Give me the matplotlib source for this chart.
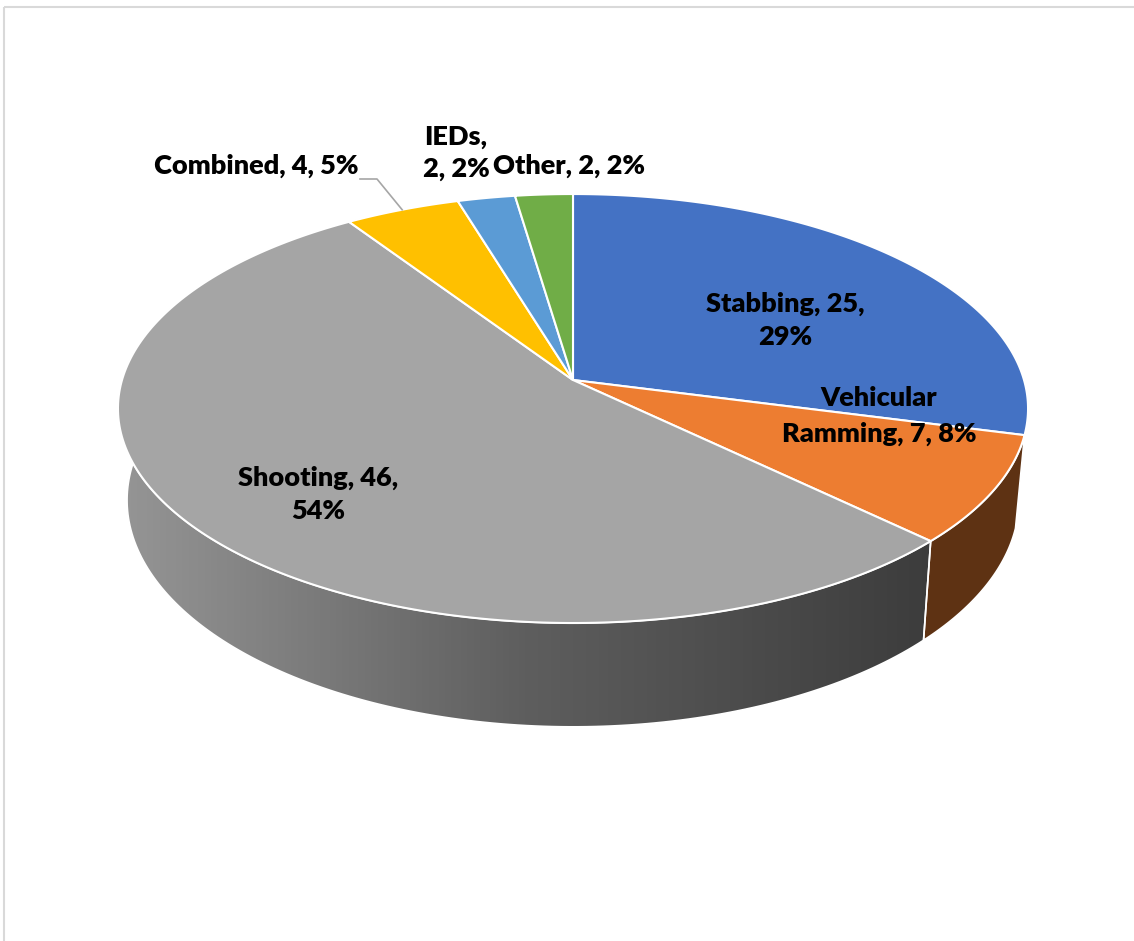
import numpy as np
import matplotlib
matplotlib.use("Agg")
import matplotlib.pyplot as plt
from matplotlib.patches import Polygon, Rectangle
from matplotlib.colors import LinearSegmentedColormap

# data
categories = ["Stabbing", "Vehicular Ramming", "Shooting", "Combined", "IEDs", "Other"]
values = [25, 7, 46, 4, 2, 2]
pcts = [29, 8, 54, 5, 2, 2]
top_colors = ["#4472C4", "#ED7D31", "#A5A5A5", "#FFC000", "#5B9BD5", "#70AD47"]
side_colors = ["#2c4a80", "#5e3213", None, "#a67c00", "#3b6589", "#49712e"]

label_text = [
    f"Stabbing, {values[0]},\n{pcts[0]}%",
    f"Vehicular\nRamming, {values[1]}, {pcts[1]}%",
    f"Shooting, {values[2]},\n{pcts[2]}%",
    f"Combined, {values[3]}, {pcts[3]}%",
    f"IEDs,\n{values[4]}, {pcts[4]}%",
    f"Other, {values[5]}, {pcts[5]}%",
]
label_pos = [(785, 320), (879, 416), (318, 494), (256, 166), (456, 153), (569, 166)]
label_spacing = [1.45, 1.6, 1.45, 1.45, 1.4, 1.45]

W, H_PX = 1134, 941
fig = plt.figure(figsize=(W / 100, H_PX / 100), dpi=100)
ax = fig.add_axes([0, 0, 1, 1])
ax.set_xlim(0, W)
ax.set_ylim(H_PX, 0)
ax.axis("off")

# pie geometry (pixels) with a simple perspective
CX, CY = 573, 380
A, B = 451, 210.7
K = 0.133
DEPTH = 90
SHRINK = 0.98


def proj(theta, bottom=False):
    u = np.sin(theta)
    v = -np.cos(theta)
    w = 1 - K * v
    x = A * u / w
    y = CY + B * v / w
    if bottom:
        return CX + x * SHRINK, y + DEPTH / w
    return CX + x, y


total = sum(values)
bounds = np.concatenate([[0], np.cumsum(values)]) / total * 2 * np.pi

# side walls, back to front
order = sorted(range(len(values)),
               key=lambda i: -np.cos((bounds[i] + bounds[i + 1]) / 2))
for i in order:
    t = np.linspace(bounds[i], bounds[i + 1], 200)
    tx, ty = proj(t)
    bx, by = proj(t, bottom=True)
    pts = np.column_stack([np.concatenate([tx, bx[::-1]]),
                           np.concatenate([ty, by[::-1]])])
    if side_colors[i] is None:
        poly = Polygon(pts, closed=True, facecolor="none", edgecolor="none")
        ax.add_patch(poly)
        grad = np.linspace(0, 1, 256)[None, :]
        cmap = LinearSegmentedColormap.from_list("g", ["#969696", "#5e5e5e", "#3c3c3c"])
        im = ax.imshow(grad, cmap=cmap, extent=[115, 935, 760, 370],
                       aspect="auto", zorder=1)
        im.set_clip_path(poly)
        ax.add_patch(Polygon(pts, closed=True, facecolor="none",
                             edgecolor="white", lw=1.2, zorder=2))
    else:
        ax.add_patch(Polygon(pts, closed=True, facecolor=side_colors[i],
                             edgecolor="white", lw=1.2, zorder=2))

# top faces
for i in range(len(values)):
    t = np.linspace(bounds[i], bounds[i + 1], 200)
    tx, ty = proj(t)
    pts = np.column_stack([np.concatenate([[CX], tx]), np.concatenate([[CY], ty])])
    ax.add_patch(Polygon(pts, closed=True, facecolor=top_colors[i],
                         edgecolor="white", lw=1.5, zorder=3))

# labels
font = dict(family=["Lato", "DejaVu Sans"], fontweight="heavy", fontsize=19.5,
            color="black", ha="center", va="center", zorder=5)
for txt, (x, y), ls in zip(label_text, label_pos, label_spacing):
    ax.text(x, y, txt, linespacing=ls, **font)

# leader line for Combined
mid = (bounds[3] + bounds[4]) / 2
ex, ey = proj(mid)
ax.plot([360, 377, ex], [179, 179, ey], color="#a6a6a6", lw=1.2, zorder=4)

# chart frame (cropped at right and bottom)
ax.add_patch(Rectangle((3.5, 7), W + 20, H_PX + 20, facecolor="none",
                       edgecolor="#d9d9d9", lw=1.5, zorder=0, clip_on=False))

fig.savefig("out.png", dpi=100)
